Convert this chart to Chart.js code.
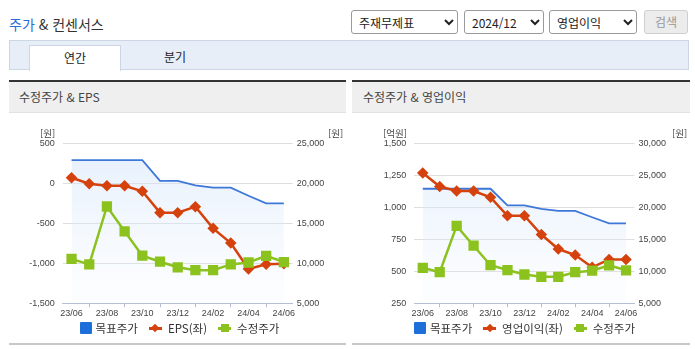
<!DOCTYPE html>
<html lang="ko">
<head>
<meta charset="utf-8">
<script src="https://cdn.jsdelivr.net/npm/chart.js@4.4.1/dist/chart.umd.min.js"></script>
<style>
  body { margin:0; width:695px; height:349px; position:relative; background:#fff; overflow:hidden;
         font-family:"Noto Sans CJK KR", sans-serif; color:#333; }
  .abs { position:absolute; }
  #title { left:9px; top:14px; font-size:14px; line-height:20px; color:#333; }
  #title span { color:#2c6cd8; }
  select { position:absolute; top:10px; height:24px; font-size:12px; font-family:"Noto Sans CJK KR", sans-serif;
           border:1px solid #9a9a9a; border-radius:3px; background:#fff; color:#222; padding:0 3px; }
  #btn { position:absolute; left:644px; top:10px; width:44px; height:24px; box-sizing:border-box; font-size:12px;
         border:1px solid #cfcfcf; border-radius:3px; background:#ececec; color:#999; text-align:center; line-height:22px; }
  #tabbar { left:9px; top:40px; width:678px; height:28px; background:#e8eef8; border:1px solid #cdd6e4; }
  #tab1 { left:29px; top:45px; width:90px; height:25px; background:#fff; border:1px solid #cdd6e4; border-bottom:none;
          font-size:12px; line-height:24px; text-align:center; color:#222; }
  #tab2 { left:145px; top:45px; width:60px; font-size:12px; line-height:24px; text-align:center; color:#222; }
  .phead { top:80px; height:30px; border-top:2px solid #333; background:#efefef; border-bottom:1px solid #e2e2e2;
           font-size:12px; line-height:30px; color:#444; box-sizing:content-box; }
  .pbottom { top:343px; height:2px; background:#c8c8c8; }
  .unit { font-size:9.5px; line-height:12px; color:#444; top:127px; }
  .legend { top:321px; height:14px; display:flex; justify-content:center; align-items:center; font-size:11.5px; color:#333; white-space:nowrap; }
  .sq { width:12px; height:12px; background:#1e6fd9; border-radius:1px; margin-right:4px; }
  .ln { position:relative; width:13px; height:3px; margin-right:6px; }
  .ln i { position:absolute; left:50%; top:50%; background:inherit; }
  .ln.red { background:#d5420e; }
  .ln.red i { width:6px; height:6px; transform:translate(-50%,-50%) rotate(45deg); }
  .ln.green { background:#8cc21e; }
  .ln.green i { width:8px; height:8px; transform:translate(-50%,-50%); }
  .gap { margin-right:11px; }
  canvas { position:absolute; }
</style>
</head>
<body>
<div id="title" class="abs"><span>주가</span> &amp; 컨센서스</div>
<select style="left:351px;width:107px"><option>주재무제표</option></select>
<select style="left:464px;width:80px"><option>2024/12</option></select>
<select style="left:549px;width:88px"><option>영업이익</option></select>
<div id="btn">검색</div>

<div id="tabbar" class="abs"></div>
<div id="tab1" class="abs">연간</div>
<div id="tab2" class="abs">분기</div>

<div class="abs phead" style="left:9px;width:327px;padding-left:10px">수정주가 &amp; EPS</div>
<div class="abs phead" style="left:352px;width:327px;padding-left:11px">수정주가 &amp; 영업이익</div>

<canvas id="chart1" width="337" height="231" style="left:9px;top:112px"></canvas>
<canvas id="chart2" width="338" height="231" style="left:352px;top:112px"></canvas>

<div class="abs unit" style="left:40px">[원]</div>
<div class="abs unit" style="left:328px">[원]</div>
<div class="abs unit" style="left:383px">[억원]</div>
<div class="abs unit" style="left:672px">[원]</div>

<div class="abs legend" style="left:64px;width:231px">
  <span class="sq"></span><span class="gap">목표주가</span>
  <span class="ln red"><i></i></span><span class="gap">EPS(좌)</span>
  <span class="ln green"><i></i></span><span>수정주가</span>
</div>
<div class="abs legend" style="left:414px;width:221px">
  <span class="sq"></span><span class="gap">목표주가</span>
  <span class="ln red"><i></i></span><span class="gap">영업이익(좌)</span>
  <span class="ln green"><i></i></span><span>수정주가</span>
</div>

<div class="abs pbottom" style="left:9px;width:337px"></div>
<div class="abs pbottom" style="left:352px;width:338px"></div>

<script>
// monthly points, every other month labelled
const months = ['23/06','23/07','23/08','23/09','23/10','23/11','23/12','24/01','24/02','24/03','24/04','24/05','24/06'];

// right axis (원)
const targetPrice = [22900, 22900, 22900, 22900, 22900, 20300, 20300, 19750, 19450, 19450, 18450, 17500, 17500];
const adjPrice = [10550, 9860, 17100, 14000, 10950, 10200, 9500, 9140, 9140, 9860, 10100, 10930, 10160];

// left axis
const eps = [70, -5, -30, -30, -100, -367, -367, -292, -563, -746, -1071, -1012, -1005];        // 원
const opProfit = [1268, 1162, 1127, 1127, 1078, 934, 934, 787, 674, 627, 531, 593, 593];      // 억원

const tickFont = { family: '"Liberation Sans", Arial, sans-serif', size: 9 };
const tickColor = '#444';

function fillGradient(ctx) {
  const a = ctx.chart.chartArea;
  if (!a) return 'rgba(0,0,0,0)';
  const g = ctx.chart.ctx.createLinearGradient(0, a.top, 0, a.bottom);
  g.addColorStop(0, 'rgba(206,226,250,0.55)');
  g.addColorStop(1, 'rgba(232,241,252,0.12)');
  return g;
}

function buildChart(canvasId, o) {
  const ctx = document.getElementById(canvasId).getContext('2d');
  return new Chart(ctx, {
    type: 'line',
    data: {
      labels: months,
      datasets: [
        {
          label: '목표주가',
          data: targetPrice,
          yAxisID: 'y1',
          borderColor: '#3d78d8',
          borderWidth: 1.8,
          pointRadius: 0,
          fill: 'start',
          backgroundColor: fillGradient,
          order: 3
        },
        {
          label: o.leftName,
          data: o.leftData,
          yAxisID: 'y',
          borderColor: '#d5420e',
          backgroundColor: '#d5420e',
          borderWidth: 2.5,
          pointStyle: 'rectRot',
          pointRadius: 4,
          order: 2
        },
        {
          label: '수정주가',
          data: adjPrice,
          yAxisID: 'y1',
          borderColor: '#8cc21e',
          backgroundColor: '#8cc21e',
          borderWidth: 2.5,
          pointStyle: 'rect',
          pointRadius: 5.5,
          order: 1
        }
      ]
    },
    options: {
      responsive: false,
      animation: false,
      layout: { padding: { top: 31.3, bottom: 21.7, left: 0, right: 0 } },
      plugins: { legend: { display: false }, tooltip: { enabled: false } },
      scales: {
        x: {
          offset: true,
          grid: { offset: true, drawOnChartArea: false, drawTicks: true, tickLength: 4, color: '#b4c0d2' },
          border: { color: '#b4c0d2' },
          ticks: {
            autoSkip: false, maxRotation: 0, padding: 1, font: tickFont, color: tickColor,
            callback: (v, i) => (i % 2 === 0 ? months[i] : null)
          },
          afterFit: s => { s.height = 18; }
        },
        y: {
          position: 'left',
          min: o.leftMin, max: o.leftMax,
          ticks: { stepSize: o.leftStep, padding: 8, font: tickFont, color: tickColor },
          grid: {
            drawTicks: false,
            color: c => (c.tick && c.tick.value === o.leftMin ? 'rgba(0,0,0,0)' : '#dedede')
          },
          border: { display: false },
          afterFit: s => { s.width = o.leftW; }
        },
        y1: {
          position: 'right',
          min: o.rightMin, max: o.rightMax,
          ticks: { stepSize: 5000, padding: 4, font: tickFont, color: tickColor },
          grid: { drawOnChartArea: false, drawTicks: false },
          border: { display: false },
          afterFit: s => { s.width = o.rightW; }
        }
      }
    }
  });
}

const chart1 = buildChart('chart1', {
  leftName: 'EPS(좌)', leftData: eps,
  leftMin: -1500, leftMax: 500, leftStep: 500,
  rightMin: 5000, rightMax: 25000,
  leftW: 53.7, rightW: 53.3
});
const chart2 = buildChart('chart2', {
  leftName: '영업이익(좌)', leftData: opProfit,
  leftMin: 250, leftMax: 1500, leftStep: 250,
  rightMin: 5000, rightMax: 30000,
  leftW: 62.3, rightW: 55.5
});
</script>
</body>
</html>
